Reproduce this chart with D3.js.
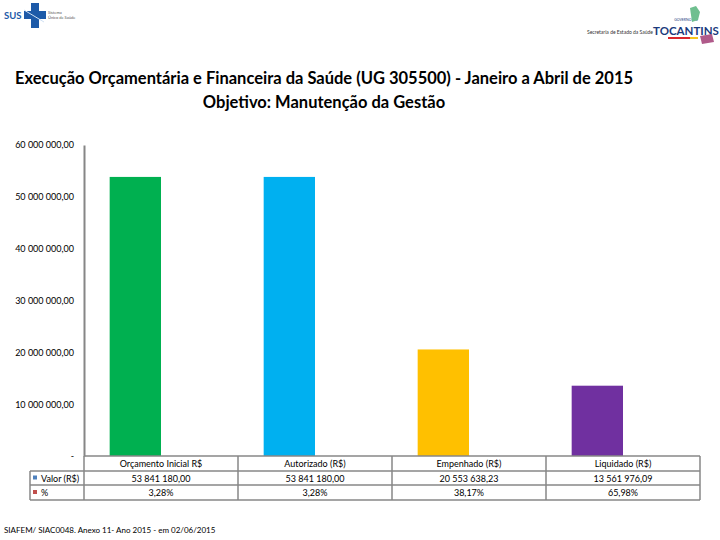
<!DOCTYPE html>
<html>
<head>
<meta charset="utf-8">
<script src="https://cdn.jsdelivr.net/npm/d3@7"></script>
<style>
  body { margin: 0; background: #fff; }
  text { font-family: Lato, "Open Sans", sans-serif; }
</style>
</head>
<body>
<script>
// chart data
var categories = ['Orçamento Inicial R$', 'Autorizado (R$)', 'Empenhado (R$)', 'Liquidado (R$)'];
var valores = [53841180.00, 53841180.00, 20553638.23, 13561976.09];
var percentuais = [3.28, 3.28, 38.17, 65.98];
var barColors = ['#00B050', '#00B0F0', '#FFC000', '#7030A0'];
var series = ['Valor (R$)', '%'];
var seriesColors = ['#4F81BD', '#C0504D'];
var yTicks = [0, 10000000, 20000000, 30000000, 40000000, 50000000, 60000000];

var W = 720, H = 540;
var svg = d3.select('body').append('svg').attr('width', W).attr('height', H);
svg.append('rect').attr('width', W).attr('height', H).attr('fill', '#fff');

var br = d3.formatLocale({ decimal: ',', thousands: ' ', grouping: [3], currency: ['R$ ', ''] });
var fmtMoney = br.format(',.2f');
var fmtPct = br.format('.2f');

// header logos (rough)
var logo = svg.append('g');
logo.append('text').attr('x', 4).attr('y', 19).attr('fill', '#1d5aa8')
  .attr('font-size', 9.5).attr('font-weight', 'bold').text('SUS');
logo.append('rect').attr('x', 31).attr('y', 3).attr('width', 8).attr('height', 25).attr('fill', '#1d5aa8');
logo.append('rect').attr('x', 24).attr('y', 11).attr('width', 22).attr('height', 8).attr('fill', '#1d5aa8');
logo.append('line').attr('x1', 24).attr('y1', 10).attr('x2', 44).attr('y2', 22)
  .attr('stroke', '#cfe0f3').attr('stroke-width', 1);
logo.append('text').attr('x', 48).attr('y', 14).attr('font-size', 4).attr('fill', '#555').text('Sistema');
logo.append('text').attr('x', 48).attr('y', 19).attr('font-size', 4).attr('fill', '#555').text('Único de Saúde');

logo.append('text').attr('x', 587).attr('y', 34).attr('font-size', 5).attr('fill', '#333')
  .text('Secretaria de Estado da Saúde');
logo.append('text').attr('x', 686).attr('y', 35).attr('text-anchor', 'middle')
  .attr('font-size', 11.5).attr('font-weight', 'bold').attr('fill', '#1b3a7c').text('TOCANTINS');
logo.append('text').attr('x', 686).attr('y', 21).attr('text-anchor', 'middle')
  .attr('font-size', 3.5).attr('fill', '#1b3a7c').text('GOVERNO DO');
logo.append('rect').attr('x', 668).attr('y', 37).attr('width', 22).attr('height', 2).attr('fill', '#d9262c');
logo.append('rect').attr('x', 690).attr('y', 37).attr('width', 8).attr('height', 2).attr('fill', '#f6c51b');
logo.append('path').attr('d', 'M690,8 L696,6 L700,12 L698,20 L692,22 Z').attr('fill', '#6fbf8f');
logo.append('path').attr('d', 'M700,36 L712,34 L714,42 L702,44 Z').attr('fill', '#b05a8a');

// title
svg.append('text').attr('x', 324).attr('y', 84).attr('text-anchor', 'middle')
  .attr('font-size', 16.5).attr('font-weight', 'bold').attr('fill', '#000')
  .text('Execução Orçamentária e Financeira da Saúde (UG 305500) - Janeiro a Abril de 2015');
svg.append('text').attr('x', 324).attr('y', 108).attr('text-anchor', 'middle')
  .attr('font-size', 16.5).attr('font-weight', 'bold').attr('fill', '#000')
  .text('Objetivo: Manutenção da Gestão');

// scales
var x = d3.scaleBand().domain(categories).range([84, 700]);
var x1 = d3.scaleBand().domain(series).range([0, x.bandwidth()]).paddingInner(0).paddingOuter(0.5);
var y = d3.scaleLinear().domain([0, 60000000]).range([456, 145]);

// bars: Valor series (colour per point) and % series
svg.append('g').selectAll('rect').data(valores).enter().append('rect')
  .attr('x', function(d, i) { return x(categories[i]) + x1(series[0]); })
  .attr('y', function(d) { return y(d); })
  .attr('width', x1.bandwidth())
  .attr('height', function(d) { return y(0) - y(d); })
  .attr('fill', function(d, i) { return barColors[i]; });

svg.append('g').selectAll('rect').data(percentuais).enter().append('rect')
  .attr('x', function(d, i) { return x(categories[i]) + x1(series[1]); })
  .attr('y', function(d) { return y(d); })
  .attr('width', x1.bandwidth())
  .attr('height', function(d) { return y(0) - y(d); })
  .attr('fill', seriesColors[1]);

// y axis
var yAxis = d3.axisLeft(y).tickValues(yTicks).tickSize(0).tickPadding(10)
  .tickFormat(function(d) { return d === 0 ? '-' : fmtMoney(d); });
var gy = svg.append('g').attr('transform', 'translate(84,0)').call(yAxis);
gy.select('.domain').attr('stroke', '#868686').attr('stroke-width', 2);
gy.selectAll('text').attr('font-size', 9).attr('fill', '#000')
  .attr('font-family', 'Lato, sans-serif');

// data table
var rowY = [456, 471, 485, 500];
var lineColor = '#878787';
var tbl = svg.append('g').attr('stroke', lineColor).attr('stroke-width', 1.5).attr('fill', 'none');
tbl.append('line').attr('x1', 84).attr('x2', 700).attr('y1', rowY[0]).attr('y2', rowY[0]);
[1, 2, 3].forEach(function(r) {
  tbl.append('line').attr('x1', 30).attr('x2', 700).attr('y1', rowY[r]).attr('y2', rowY[r]);
});
tbl.append('line').attr('x1', 30).attr('x2', 30).attr('y1', rowY[1]).attr('y2', rowY[3]);
categories.forEach(function(c) {
  tbl.append('line').attr('x1', x(c) + x.bandwidth()).attr('x2', x(c) + x.bandwidth())
    .attr('y1', rowY[0]).attr('y2', rowY[3]);
});
tbl.append('line').attr('x1', 84).attr('x2', 84).attr('y1', rowY[0]).attr('y2', rowY[3]);

var cells = svg.append('g').attr('font-size', 9).attr('fill', '#000').attr('text-anchor', 'middle');
categories.forEach(function(c, i) {
  var cx = x(c) + x.bandwidth() / 2;
  cells.append('text').attr('x', cx).attr('y', 467).text(c);
  cells.append('text').attr('x', cx).attr('y', 481.5).text(fmtMoney(valores[i]));
  cells.append('text').attr('x', cx).attr('y', 496).text(fmtPct(percentuais[i]) + '%');
});

series.forEach(function(s, i) {
  var cy = (rowY[i + 1] + rowY[i + 2]) / 2;
  svg.append('rect').attr('x', 33).attr('y', cy - 2.5).attr('width', 4).attr('height', 4)
    .attr('fill', seriesColors[i]);
  svg.append('text').attr('x', 41).attr('y', cy + 3.5).attr('font-size', 9).attr('fill', '#000').text(s);
});

// source note
svg.append('text').attr('x', 4).attr('y', 533).attr('font-size', 8).attr('fill', '#000')
  .text('SIAFEM/ SIAC0048. Anexo 11- Ano 2015 - em 02/06/2015');
</script>
</body>
</html>
